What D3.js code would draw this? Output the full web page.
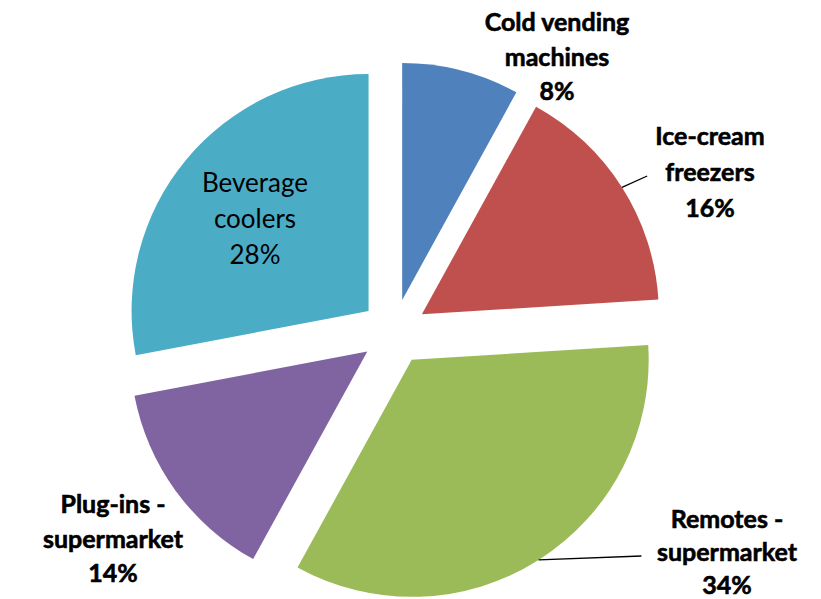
<!DOCTYPE html>
<html>
<head>
<meta charset="utf-8">
<script src="https://cdn.jsdelivr.net/npm/d3@7"></script>
<style>
  html, body { margin: 0; padding: 0; background: #ffffff; }
  svg { display: block; }
</style>
</head>
<body>
<svg id="chart" width="821" height="599"></svg>
<script>
// Share of refrigeration units by segment
const categories = ["Cold vending machines", "Ice-cream freezers", "Remotes - supermarket", "Plug-ins - supermarket", "Beverage coolers"];
const values = [8, 16, 34, 14, 28];
const labelLines = [
  ["Cold vending", "machines"],
  ["Ice-cream", "freezers"],
  ["Remotes -", "supermarket"],
  ["Plug-ins -", "supermarket"],
  ["Beverage", "coolers"]
];
const colors = ["#4F81BD", "#C0504D", "#9BBB59", "#8064A2", "#4BACC6"];

// Label placement (centre x, first baseline y), line pitch, bold flag, leader line
const labelLayout = [
  { x: 557, y: 31, pitch: 34.5, bold: true, leader: false },
  { x: 710, y: 145, pitch: 36, bold: true, leader: true },
  { x: 727, y: 528, pitch: 33, bold: true, leader: true },
  { x: 113, y: 513, pitch: 34.5, bold: true, leader: false },
  { x: 255, y: 192, pitch: 36, bold: false, leader: false }
];

const cx = 394, cy = 332, radius = 237, explode = 33;

const svg = d3.select("#chart");
const g = svg.append("g").attr("transform", `translate(${cx},${cy})`);

const pie = d3.pie().sort(null).value(d => d.value).startAngle(0).endAngle(2 * Math.PI);
const arc = d3.arc().innerRadius(0).outerRadius(radius);

const data = categories.map((c, i) => ({ name: c, value: values[i], lines: labelLines[i], color: colors[i], layout: labelLayout[i] }));
const arcs = pie(data);

function offsetOf(a) {
  const mid = (a.startAngle + a.endAngle) / 2;
  return [Math.sin(mid) * explode, -Math.cos(mid) * explode];
}

g.selectAll("path.slice")
  .data(arcs)
  .join("path")
  .attr("class", "slice")
  .attr("d", arc)
  .attr("fill", d => d.data.color)
  .attr("transform", d => { const o = offsetOf(d); return `translate(${o[0]},${o[1]})`; });

// Leader lines from the slice edge to its label
arcs.forEach(a => {
  const L = a.data.layout;
  if (!L.leader) return;
  const mid = (a.startAngle + a.endAngle) / 2;
  const o = offsetOf(a);
  const x0 = cx + o[0] + Math.sin(mid) * radius;
  const y0 = cy + o[1] - Math.cos(mid) * radius;
  const lineY = L.y + L.pitch - 5;
  const textHalf = a.data.lines[1].length * 7.6;
  const x1 = L.x - textHalf - 2;
  svg.append("path")
    .attr("d", `M${x0},${y0}L${x1},${lineY}`)
    .attr("fill", "none")
    .attr("stroke", "#000")
    .attr("stroke-width", 1.3);
});

// Labels: name lines plus percentage
const total = d3.sum(values);
arcs.forEach(a => {
  const L = a.data.layout;
  const lines = a.data.lines.concat([Math.round(a.data.value / total * 100) + "%"]);
  const t = svg.append("text")
    .attr("text-anchor", "middle")
    .attr("font-family", "Lato, 'Open Sans', sans-serif")
    .attr("font-size", L.bold ? 25 : 26)
    .attr("font-weight", L.bold ? 700 : 400)
    .attr("fill", "#000")
    .attr("stroke", L.bold ? "#000" : "none")
    .attr("stroke-width", 0.6);
  lines.forEach((ln, i) => {
    t.append("tspan").attr("x", L.x).attr("y", L.y + i * L.pitch).text(ln);
  });
});
</script>
</body>
</html>
